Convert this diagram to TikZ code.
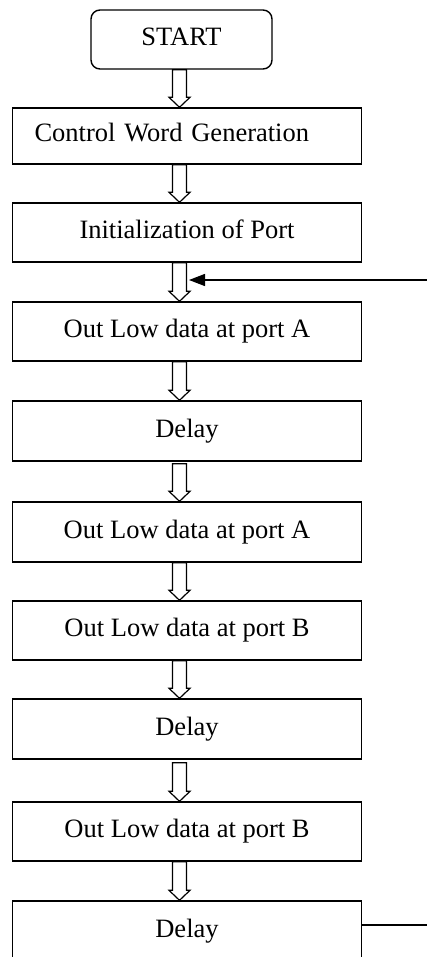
\documentclass[tikz,border=0pt]{standalone}
\usepackage{fontspec}
\setmainfont{Liberation Serif}
\usetikzlibrary{calc,arrows.meta}

% hollow block arrow between two stacked boxes; optional gap below the upper box
\newcommand\flowarrow[3][0]{%
  \path let \p1=(#2.south), \p2=(#3.north) in
    [blockarrow] (179.5pt-7pt,\y1-#1pt) -- (179.5pt-7pt,\y2+10pt) -- (179.5pt-10.5pt,\y2+10pt)
    -- (179.5pt,\y2) -- (179.5pt+10.5pt,\y2+10pt) -- (179.5pt+7pt,\y2+10pt)
    -- (179.5pt+7pt,\y1-#1pt) -- cycle;}

\begin{document}
\begin{tikzpicture}[x=1pt,y=-1pt,
  every node/.style={font=\fontsize{26.5}{30}\selectfont},
  stepbox/.style={draw,line width=1.4pt,rectangle,minimum width=349pt,
    inner sep=0pt,text height=18pt,text depth=6pt},
  startbox/.style={draw,line width=1.4pt,rectangle,rounded corners=9pt,
    minimum width=181pt,minimum height=59pt,inner sep=0pt,text height=18pt,text depth=6pt},
  blockarrow/.style={draw,line width=1.2pt,fill=white,line join=miter},
  loopline/.style={draw,line width=1.4pt}]
\clip (0,0) rectangle (427,957);
\fill[white] (0,0) rectangle (427,957);

\node[startbox] (start) at (181.5,39.5) {START};
\node[stepbox,minimum height=56pt,text width=305pt,align=left,inner xsep=22pt] (cw) at (187,136) {Control Word Generation};
\node[stepbox,minimum height=59pt] (init) at (187,232.5) {Initialization of Port};
\node[stepbox,minimum height=59pt] (outa1) at (187,331.5) {Out Low data at port A};
\node[stepbox,minimum height=60pt] (d1) at (187,431) {Delay};
\node[stepbox,minimum height=60pt] (outa2) at (187,532) {Out Low data at port A};
\node[stepbox,minimum height=59pt] (outb1) at (187,630.5) {Out Low data at port B};
\node[stepbox,minimum height=60pt] (d2) at (187,729) {Delay};
\node[stepbox,minimum height=59pt] (outb2) at (187,831.5) {Out Low data at port B};
\node[stepbox,minimum height=60pt] (d3) at (187,931) {Delay};

\flowarrow{start}{cw}
\flowarrow{cw}{init}
\flowarrow{init}{outa1}
\flowarrow{outa1}{d1}
\flowarrow[2]{d1}{outa2}
\flowarrow{outa2}{outb1}
\flowarrow{outb1}{d2}
\flowarrow[3]{d2}{outb2}
\flowarrow{outb2}{d3}

% loop back from the last delay
\coordinate (loopout) at (427,925);
\coordinate (loopin) at (427,280);
\coordinate (looptip) at (189,280);
\draw[loopline] (d3.east |- loopout) -- (loopout);
\draw[loopline,-{Triangle[length=16pt,width=12pt]}] (loopin) -- (looptip);
\end{tikzpicture}
\end{document}
